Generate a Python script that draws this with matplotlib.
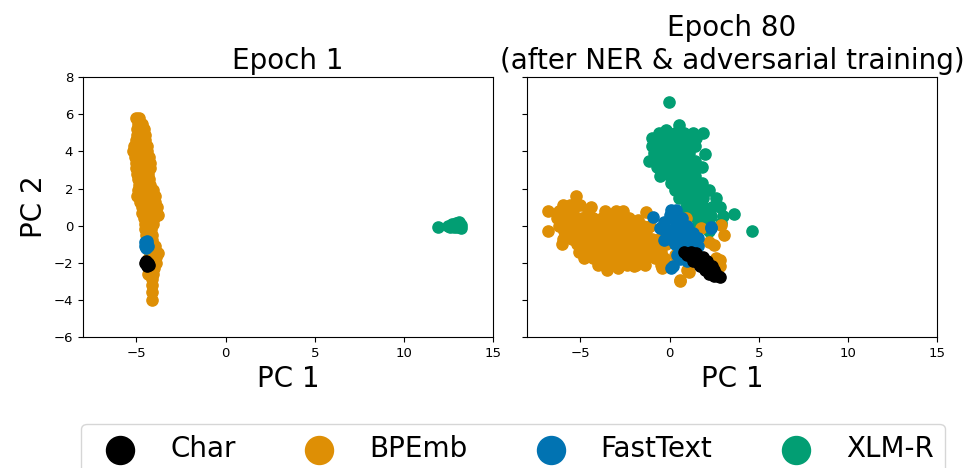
#!/usr/bin/env python3

# PCA of the embedding spaces, before and after NER + adversarial training

import matplotlib
matplotlib.use('Agg')
import matplotlib.pyplot as plt

labels = ['Char', 'BPEmb', 'FastText', 'XLM-R']
colors = {'Char': 'black', 'BPEmb': '#de8f05', 'FastText': '#0173b2', 'XLM-R': '#029e73'}

# epoch 1
e1_char = [(-4.45, -1.9), (-4.35, -2.0), (-4.4, -2.15), (-4.3, -2.1), (-4.5, -2.0), (-4.4, -2.05)]
e1_fasttext = [(-4.5, -0.9), (-4.4, -1.0), (-4.45, -1.2), (-4.35, -1.1), (-4.5, -1.1), (-4.4, -0.85)]
e1_bpemb = [
    (-5.0, 5.8), (-4.85, 5.8),
    (-4.9, 5.5), (-4.7, 5.5),
    (-4.95, 5.2), (-4.7, 5.2), (-4.55, 5.2),
    (-4.95, 4.9), (-4.75, 4.9), (-4.5, 4.9),
    (-5.05, 4.6), (-4.8, 4.6), (-4.5, 4.6),
    (-5.15, 4.3), (-4.85, 4.3), (-4.55, 4.3), (-4.4, 4.3),
    (-5.2, 4.0), (-4.9, 4.0), (-4.6, 4.0), (-4.4, 4.0),
    (-5.1, 3.7), (-4.8, 3.7), (-4.5, 3.7), (-4.3, 3.7),
    (-5.05, 3.4), (-4.75, 3.4), (-4.45, 3.4), (-4.25, 3.4),
    (-5.05, 3.1), (-4.7, 3.1), (-4.4, 3.1), (-4.25, 3.1),
    (-4.95, 2.8), (-4.65, 2.8), (-4.35, 2.8),
    (-4.9, 2.5), (-4.6, 2.5), (-4.3, 2.5),
    (-4.85, 2.2), (-4.55, 2.2), (-4.25, 2.2),
    (-4.9, 1.9), (-4.6, 1.9), (-4.3, 1.9), (-4.05, 1.9),
    (-4.97, 1.6), (-4.65, 1.6), (-4.3, 1.6), (-3.97, 1.6),
    (-4.8, 1.3), (-4.5, 1.3), (-4.2, 1.3), (-3.95, 1.3),
    (-4.7, 1.0), (-4.4, 1.0), (-4.1, 1.0), (-3.85, 1.0),
    (-4.7, 0.7), (-4.4, 0.7), (-4.1, 0.7), (-3.8, 0.6),
    (-4.6, 0.4), (-4.3, 0.4), (-4.0, 0.4),
    (-4.5, 0.1), (-4.25, 0.1), (-4.05, 0.1),
    (-4.5, -0.2), (-4.2, -0.2),
    (-4.45, -0.5), (-4.15, -0.5),
    (-4.4, -0.8), (-4.1, -0.8),
    (-4.2, -1.1), (-3.95, -1.1),
    (-4.1, -1.4), (-3.8, -1.5),
    (-4.3, -1.7), (-3.9, -1.7),
    (-4.1, -2.0), (-3.9, -2.0),
    (-4.3, -2.3), (-4.0, -2.3),
    (-4.35, -2.6), (-4.05, -2.6),
    (-4.15, -2.9), (-4.1, -3.2), (-4.1, -3.6), (-4.1, -4.0),
]
e1_xlmr = [(11.9, -0.08), (12.5, 0.0), (12.7, 0.1), (12.9, 0.15), (13.1, 0.2), (13.2, 0.05),
           (13.0, -0.1), (12.8, -0.05), (13.2, -0.15), (12.6, -0.1)]

# epoch 80
e80_char = [
    (1.2, -1.4), (1.4, -1.6), (1.6, -1.7), (1.5, -1.5), (1.8, -1.9), (1.9, -2.0), (2.0, -2.1),
    (2.1, -2.3), (2.2, -2.2), (2.3, -2.4), (2.4, -2.5), (2.5, -2.4), (2.6, -2.6), (2.7, -2.7),
    (2.0, -2.4), (1.7, -2.2), (2.2, -2.6), (1.9, -1.7), (2.1, -1.9), (2.4, -2.2), (0.8, -1.4),
    (1.0, -1.6), (1.3, -1.9), (1.6, -2.0), (2.5, -2.7), (2.8, -2.75),
]
e80_fasttext = [
    (-0.93, 0.48), (0.1, 0.84), (0.37, 0.84), (-0.56, -0.13), (0.0, 0.6), (-0.3, 0.2), (0.3, 0.3),
    (0.7, 0.4), (-0.2, -0.4), (0.2, -0.2), (0.6, -0.1), (1.0, 0.0), (0.0, -0.7), (0.5, -0.6),
    (0.9, -0.5), (1.3, -0.4), (1.57, -0.67), (0.3, -1.0), (0.8, -1.0), (1.2, -1.0), (1.6, -1.1),
    (0.5, -1.4), (1.0, -1.4), (1.5, -1.75), (0.19, -2.2), (0.1, -2.3), (2.33, -0.06), (2.3, -0.13),
    (0.6, -1.8), (1.0, -1.9), (-0.3, -0.8), (0.4, -1.6),
]
e80_bpemb = [
    (-5.25, 1.6),
    (-6.0, 1.1), (-5.6, 1.1), (-5.0, 1.1), (-4.4, 1.0),
    (-6.85, 0.8), (-6.2, 0.8), (-5.8, 0.8), (-5.4, 0.8), (-4.6, 0.8), (-3.6, 0.8), (-3.0, 0.8),
    (-2.6, 0.8), (-1.3, 0.75),
    (-6.3, 0.4), (-5.9, 0.4), (-5.3, 0.4), (-4.9, 0.4), (-4.3, 0.4), (-3.8, 0.4), (-3.3, 0.4),
    (-2.8, 0.4), (-2.3, 0.4), (-1.8, 0.3),
    (-6.2, 0.0), (-5.7, 0.0), (-5.2, 0.0), (-4.7, 0.0), (-4.1, 0.0), (-3.6, 0.0), (-3.1, 0.0),
    (-2.6, 0.0), (-2.1, 0.0), (-1.5, 0.0), (-1.1, 0.0),
    (-6.85, -0.3), (-5.9, -0.3), (-5.4, -0.3), (-4.9, -0.3), (-4.4, -0.3), (-3.9, -0.3),
    (-3.4, -0.3), (-2.9, -0.3), (-2.4, -0.3), (-1.9, -0.3), (-1.3, -0.3),
    (-6.0, -0.7), (-5.5, -0.7), (-5.0, -0.7), (-4.5, -0.7), (-4.0, -0.7), (-3.5, -0.7),
    (-3.0, -0.7), (-2.5, -0.7), (-2.0, -0.7), (-1.6, -0.7), (-1.0, -0.7), (-0.6, -0.7),
    (-6.05, -1.0), (-5.2, -1.0), (-4.7, -1.0), (-4.2, -1.0), (-3.7, -1.0), (-3.2, -1.0),
    (-2.7, -1.0), (-2.2, -1.0), (-1.7, -1.0), (-1.2, -1.0), (-0.7, -1.0),
    (-5.1, -1.4), (-4.6, -1.4), (-4.1, -1.4), (-3.6, -1.4), (-3.1, -1.4), (-2.6, -1.4),
    (-2.1, -1.4), (-1.6, -1.4), (-1.1, -1.4), (-0.5, -1.4),
    (-4.8, -1.75), (-4.3, -1.75), (-3.8, -1.75), (-3.3, -1.75), (-2.8, -1.75), (-2.3, -1.75),
    (-1.8, -1.75), (-1.3, -1.75), (-0.84, -1.75), (-0.3, -1.75),
    (-4.0, -2.1), (-3.5, -2.1), (-2.9, -2.1), (-2.4, -2.1), (-1.9, -2.1), (-1.4, -2.1), (-0.5, -2.1),
    (-3.5, -2.4), (-2.9, -2.3), (-2.0, -2.2), (-0.4, -2.3),
    (0.93, 0.4), (1.77, -0.13), (2.9, 0.03), (3.07, -0.5), (2.8, -2.2), (2.6, -1.75),
    (0.56, -2.93), (2.5, -1.05), (2.8, -1.85), (1.1, -2.48), (0.0, -2.2), (0.6, -3.0),
    (1.0, -2.4), (-0.2, -1.0), (0.3, -1.6), (2.2, -0.9),
]
e80_xlmr = [
    (-0.04, 6.64), (0.5, 5.42), (-0.2, 5.15),
    (-0.6, 5.0), (-0.2, 5.0), (0.3, 5.0), (0.8, 5.0), (1.3, 5.0), (1.85, 5.0),
    (-1.0, 4.7), (-0.5, 4.7), (0.0, 4.7), (0.5, 4.7), (1.0, 4.7), (1.5, 4.7),
    (-1.0, 4.3), (-0.5, 4.3), (0.0, 4.3), (0.5, 4.3), (1.0, 4.3), (1.4, 4.3),
    (-0.9, 3.9), (-0.4, 3.9), (0.1, 3.9), (0.6, 3.9), (1.1, 3.9), (2.0, 3.85),
    (-1.17, 3.5), (-0.6, 3.5), (-0.1, 3.5), (0.4, 3.5), (0.9, 3.5), (1.4, 3.5),
    (-0.7, 3.15), (-0.2, 3.15), (0.3, 3.15), (0.8, 3.15), (1.3, 3.15), (1.8, 3.15),
    (-0.56, 2.7), (0.0, 2.7), (0.5, 2.7), (1.0, 2.7), (1.4, 2.7),
    (0.1, 2.3), (0.5, 2.3), (0.9, 2.3), (1.3, 2.3), (1.8, 2.3),
    (0.3, 1.9), (0.8, 1.9), (1.2, 1.9), (1.7, 1.9), (2.2, 1.9),
    (0.5, 1.5), (0.9, 1.5), (1.4, 1.5), (1.9, 1.5), (2.6, 1.5),
    (0.9, 1.0), (1.4, 1.0), (1.9, 1.0), (2.4, 1.0), (2.8, 1.0),
    (0.65, 0.5), (1.3, 0.5), (1.8, 0.5), (2.3, 0.5), (3.0, 0.5),
    (1.6, 0.1), (2.2, 0.1), (2.9, 0.14), (2.23, -0.3),
    (3.6, 0.62), (4.6, -0.29),
]

epochs = {
    'Epoch 1': {'XLM-R': e1_xlmr, 'BPEmb': e1_bpemb, 'FastText': e1_fasttext, 'Char': e1_char},
    'Epoch 80\n(after NER & adversarial training)':
        {'XLM-R': e80_xlmr, 'BPEmb': e80_bpemb, 'FastText': e80_fasttext, 'Char': e80_char},
}


def main():
    fig, axes = plt.subplots(1, 2, figsize=(9.68, 4.68), dpi=100, sharey=True)
    fig.subplots_adjust(left=0.0857, right=0.968, top=0.835, bottom=0.28, wspace=0.083)

    handles = {}
    for ax, (title, points) in zip(axes, epochs.items()):
        for name, pts in points.items():
            xs = [p[0] for p in pts]
            ys = [p[1] for p in pts]
            handles[name] = ax.scatter(xs, ys, s=65, color=colors[name], label=name)
        ax.set_title(title, fontsize=20)
        ax.set_xlabel('PC 1', fontsize=20)
        ax.set_xlim(-8, 15)
        ax.set_ylim(-6, 8)
        ax.set_xticks([-5, 0, 5, 10, 15])
        ax.tick_params(labelsize=9.5)
    axes[0].set_ylabel('PC 2', fontsize=20)
    axes[0].set_yticks(range(-6, 9, 2))

    fig.legend([handles[n] for n in labels], labels, loc='upper center', ncol=4,
               bbox_to_anchor=(0.53, 0.124), fontsize=20, markerscale=2.5,
               columnspacing=2.0, handletextpad=0.8)
    fig.savefig('out.png')


if __name__ == "__main__":
    main()
